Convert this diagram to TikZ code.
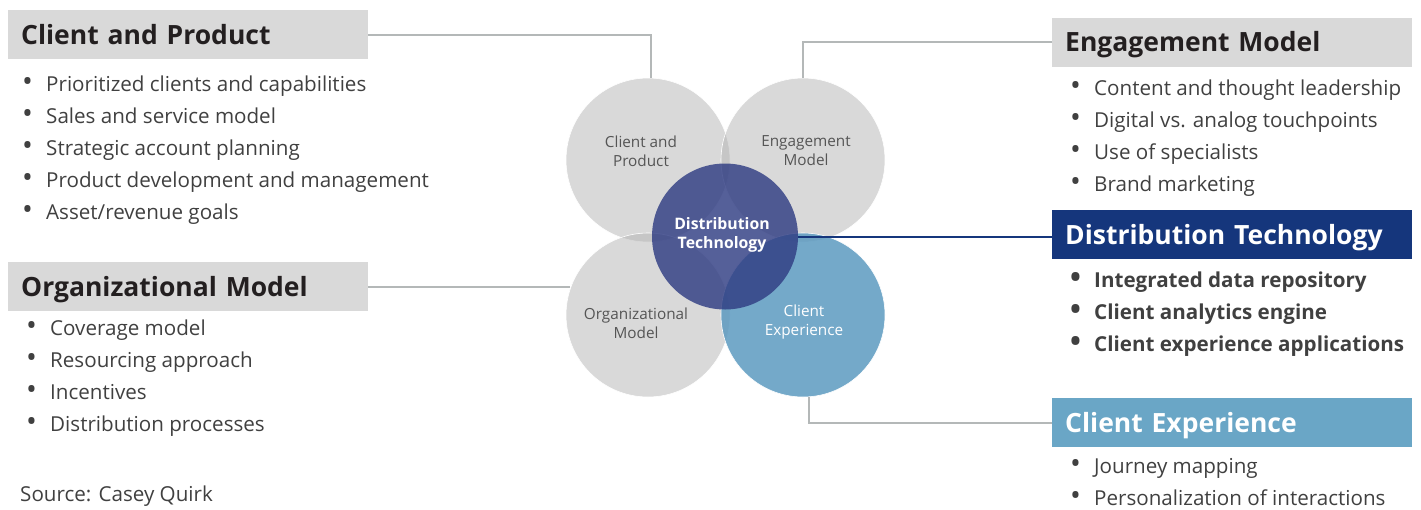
\documentclass[tikz,border=0pt]{standalone}
\usepackage{fontspec}
\setmainfont{Open Sans}

\definecolor{boxgray}{RGB}{217,217,217}
\definecolor{circgray}{RGB}{179,179,179}
\definecolor{cxblue}{RGB}{92,154,192}
\definecolor{boxblue}{RGB}{106,166,198}
\definecolor{dtnavy}{RGB}{48,61,131}
\definecolor{hdnavy}{RGB}{21,54,124}
\definecolor{linegray}{RGB}{180,184,184}
\definecolor{txtgray}{RGB}{64,64,64}
\definecolor{lblgray}{RGB}{85,85,85}
\definecolor{hdblack}{RGB}{35,31,32}

\newcommand{\bitem}[1]{\makebox[24pt][l]{\raisebox{-0.5pt}{\scalebox{1.4}{\textbullet}}}#1}

\begin{document}
\begin{tikzpicture}[x=1pt, y=-1pt,
	header/.style={anchor=west, minimum height=49pt, inner xsep=13pt, text width=334pt, text height=19pt, text depth=0pt, align=left, text=hdblack, fill=boxgray, font=\fontsize{26.5}{30}\selectfont\bfseries},
	list/.style={anchor=base west, inner sep=0pt, align=left, text=txtgray, font=\fontsize{20.6}{32}\selectfont},
	ring/.style={circle, minimum size=164pt, inner sep=0pt, fill=circgray, fill opacity=0.5, draw=white, line width=0.6pt},
	ctext/.style={align=center, text=lblgray, font=\fontsize{15.3}{19}\selectfont},
	conn/.style={draw=linegray, line width=2pt}]
			%%%%% START %%%%%
			
			\useasboundingbox (0, 0) rectangle (1421, 509);
			
			% circles
			\node[ring] (cCP) at (648, 160) {};
			\node[ring] (cEM) at (803, 160) {};
			\node[ring] (cOM) at (648, 315) {};
			\node[ring, fill=cxblue, fill opacity=0.85] (cCE) at (803, 315) {};
			\node[circle, minimum size=146pt, inner sep=0pt, fill=dtnavy, fill opacity=0.82] (cDT) at (725, 236.5) {};
			
			\node[ctext] (tCP) at (641, 151) {Client and\\Product};
			\node[ctext] (tEM) at (806, 151) {Engagement\\Model};
			\node[ctext] (tOM) at (636, 323) {Organizational\\Model};
			\node[ctext, text=white] (tCE) at (804, 322) {Client\\Experience};
			\node[ctext, text=white, font=\fontsize{15.8}{19}\selectfont\bfseries] (tDT) at (722, 234.5) {Distribution\\Technology};
			
			% headers
			\node[header] (hdCP) at (8, 34.5) {Client and Product};
			\node[header] (hdOM) at (8, 286.5) {Organizational Model};
			\node[header] (hdEM) at (1052, 42) {Engagement Model};
			\node[header, fill=hdnavy, text=white] (hdDT) at (1052, 234.5) {Distribution Technology};
			\node[header, fill=boxblue, text=white] (hdCE) at (1052, 422.5) {Client Experience};
			
			% lists (anchored on the last line)
			\node[list] (lCP) at (22, 219) {\bitem{Prioritized clients and capabilities}\\\bitem{Sales and service model}\\\bitem{Strategic account planning}\\\bitem{Product development and management}\\\bitem{Asset/revenue goals}};
			\node[list] (lOM) at (26, 431) {\bitem{Coverage model}\\\bitem{Resourcing approach}\\\bitem{Incentives}\\\bitem{Distribution processes}};
			\node[list] (lEM) at (1070, 191) {\bitem{Content and thought leadership}\\\bitem{Digital vs. analog touchpoints}\\\bitem{Use of specialists}\\\bitem{Brand marketing}};
			\node[list, font=\fontsize{20.6}{32}\selectfont\bfseries] (lDT) at (1070, 351) {\bitem{Integrated data repository}\\\bitem{Client analytics engine}\\\bitem{Client experience applications}};
			\node[list] (lCE) at (1070, 505) {\bitem{Journey mapping}\\\bitem{Personalization of interactions}};
			
			\node[list] (src) at (20, 501) {Source: Casey Quirk};
			
			% connectors
			\draw[conn] (hdCP.east) -| (cCP.88);
			\draw[conn] (hdEM.west) -| (cEM.north);
			\draw[conn] (hdOM.east) -- (hdOM.east -| cOM.161.5);
			\draw[conn] (cCE.-86) |- (hdCE.west);
			\draw[line width=2pt, color=hdnavy] (cDT.east) -- (cDT.east -| hdDT.west);
			
			%%%%% END %%%%%
		\end{tikzpicture}
\end{document}
